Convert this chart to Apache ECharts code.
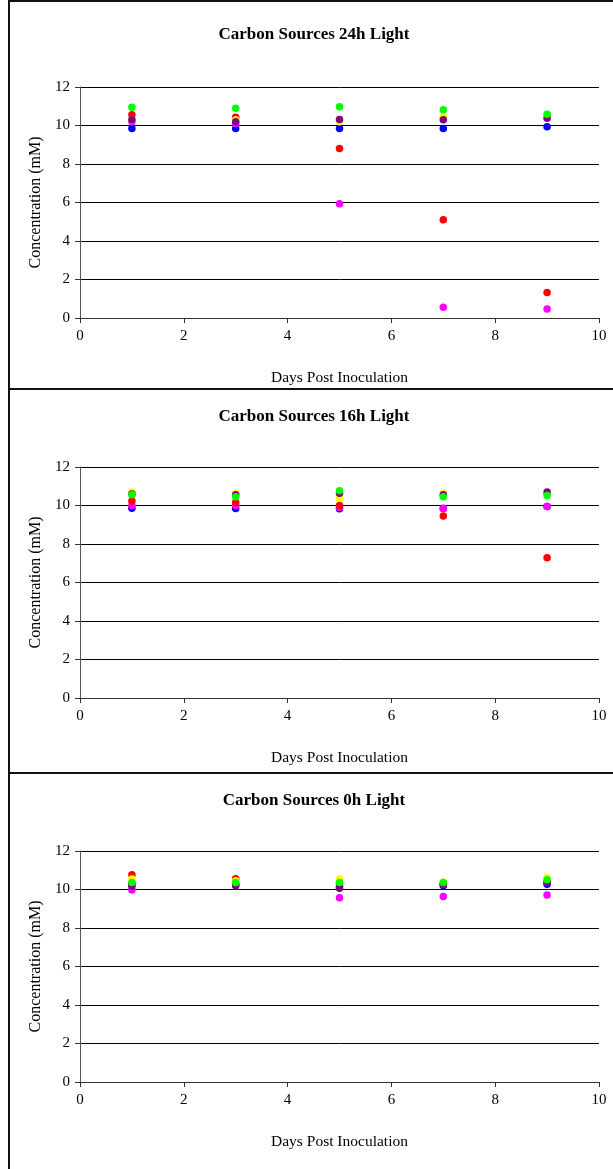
<!DOCTYPE html>
<html>
<head>
<meta charset="utf-8">
<script src="https://cdn.jsdelivr.net/npm/echarts@6/dist/echarts.min.js"></script>
<style>
  html, body { margin: 0; padding: 0; background: #fff; }
  #chart { width: 613px; height: 1169px; }
</style>
</head>
<body>
<div id="chart"></div>
<script>
// days sampled
const days = [1, 3, 5, 7, 9]

const panelTitles = ['Carbon Sources 24h Light', 'Carbon Sources 16h Light', 'Carbon Sources 0h Light']
const yTicks = [0, 2, 4, 6, 8, 10, 12]
const xTicks = [0, 2, 4, 6, 8, 10]

// 24h light
const blue24 = [9.84, 9.84, 9.84, 9.84, 9.93]
const magenta24 = [10.2, 10.1, 5.94, 0.56, 0.47]
const red24 = [10.56, 10.43, 8.8, 5.1, 1.32]
const yellow24 = [10.3, 10.3, 10.2, 10.47, 10.45]
const purple24 = [10.3, 10.2, 10.31, 10.3, 10.38]
const green24 = [10.95, 10.89, 10.97, 10.82, 10.59]

// 16h light
const blue16 = [9.86, 9.84, 9.83, 9.85, 9.95]
const magenta16 = [10.0, 10.0, 9.9, 9.86, 9.95]
const red16 = [10.24, 10.16, 10.0, 9.46, 7.29]
const yellow16 = [10.7, 10.63, 10.38, 10.63, 10.6]
const purple16 = [10.6, 10.56, 10.63, 10.56, 10.7]
const green16 = [10.56, 10.45, 10.77, 10.45, 10.52]

// 0h light
const blue0 = [10.3, 10.24, 10.17, 10.2, 10.27]
const magenta0 = [9.98, 10.3, 9.57, 9.64, 9.71]
const red0 = [10.77, 10.56, 10.32, 10.26, 10.38]
const yellow0 = [10.55, 10.46, 10.55, 10.38, 10.62]
const purple0 = [10.17, 10.2, 10.07, 10.3, 10.38]
const green0 = [10.36, 10.36, 10.36, 10.36, 10.51]

const seriesColors = ['#0000FF', '#FF00FF', '#FF0000', '#FFFF00', '#800080', '#00FF00']
const seriesNames = ['Blue', 'Magenta', 'Red', 'Yellow', 'Purple', 'Green']
const panelData = [
  [blue24, magenta24, red24, yellow24, purple24, green24],
  [blue16, magenta16, red16, yellow16, purple16, green16],
  [blue0, magenta0, red0, yellow0, purple0, green0]
]

// layout of the three stacked panels
const gridTops = [87, 467, 851]
const titleTops = [21, 403, 787]
const plotHeight = 231
const fontFamily = 'Liberation Serif, Times New Roman, serif'

const chart = echarts.init(document.getElementById('chart'))

const grids = gridTops.map(top => ({ left: 80, width: 519, top: top, height: plotHeight }))

const titles = panelTitles.map((t, i) => ({
  text: t,
  left: 309,
  top: titleTops[i],
  textAlign: 'center',
  textStyle: { fontFamily: fontFamily, fontSize: 17, fontWeight: 'bold', color: '#000' }
}))

const xAxes = grids.map((_, i) => ({
  type: 'value',
  gridIndex: i,
  min: xTicks[0],
  max: xTicks[xTicks.length - 1],
  interval: 2,
  name: 'Days Post Inoculation',
  nameLocation: 'middle',
  nameGap: 52,
  nameTextStyle: { fontFamily: fontFamily, fontSize: 15.5, color: '#000' },
  axisLine: { lineStyle: { color: '#333', width: 1 } },
  axisTick: { inside: false, length: 5, lineStyle: { color: '#333' } },
  axisLabel: { fontFamily: fontFamily, fontSize: 15, color: '#000', margin: 11 },
  splitLine: { show: false }
}))

const yAxes = grids.map((_, i) => ({
  type: 'value',
  gridIndex: i,
  min: yTicks[0],
  max: yTicks[yTicks.length - 1],
  interval: 2,
  name: 'Concentration (mM)',
  nameLocation: 'middle',
  nameGap: 33,
  nameTextStyle: { fontFamily: fontFamily, fontSize: 16, color: '#000' },
  axisLine: { show: true, lineStyle: { color: '#555', width: 1 } },
  axisTick: { show: true, inside: false, length: 5, lineStyle: { color: '#333' } },
  axisLabel: { fontFamily: fontFamily, fontSize: 15, color: '#000', margin: 10 },
  splitLine: { show: true, lineStyle: { color: '#000', width: 1 } }
}))

const series = []
panelData.forEach((group, p) => {
  group.forEach((vals, s) => {
    series.push({
      name: seriesNames[s],
      type: 'scatter',
      xAxisIndex: p,
      yAxisIndex: p,
      symbol: 'circle',
      symbolSize: 7.5,
      itemStyle: { color: seriesColors[s], opacity: 1 },
      data: days.map((d, k) => [d, vals[k]]),
      z: 2 + s
    })
  })
})

// frame lines around the stacked panels
const frame = [
  { type: 'line', shape: { x1: 9, y1: 0, x2: 9, y2: 1169 }, style: { stroke: '#111', lineWidth: 2 } },
  { type: 'line', shape: { x1: 8, y1: 1, x2: 613, y2: 1 }, style: { stroke: '#111', lineWidth: 2 } },
  { type: 'line', shape: { x1: 8, y1: 389, x2: 613, y2: 389 }, style: { stroke: '#111', lineWidth: 2 } },
  { type: 'line', shape: { x1: 8, y1: 773, x2: 613, y2: 773 }, style: { stroke: '#111', lineWidth: 2 } }
]

chart.setOption({
  backgroundColor: '#fff',
  animation: false,
  title: titles,
  grid: grids,
  xAxis: xAxes,
  yAxis: yAxes,
  series: series,
  graphic: frame
})
</script>
</body>
</html>
